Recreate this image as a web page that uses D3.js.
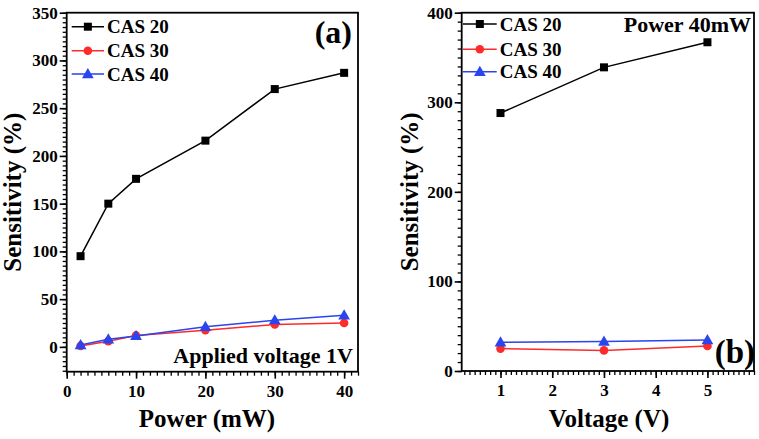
<!DOCTYPE html>
<html><head><meta charset="utf-8">
<script src="https://cdn.jsdelivr.net/npm/d3@7"></script>
<style>body{margin:0;background:#fff}svg{display:block}
svg text{font-family:"Liberation Serif","Times New Roman",Times,"DejaVu Serif","Noto Serif",serif !important;font-weight:bold}</style>
</head><body><svg id="c" width="759" height="439"></svg>
<script>
const seriesNames = ["CAS 20", "CAS 30", "CAS 40"];
const seriesColors = ["#000000", "#ff2a2a", "#2a44ee"];
const seriesShapes = ["square", "circle", "triangle"];
// Panel (a): sensitivity vs power at 1V
const powerX = [2, 6, 10, 20, 30, 40];
const powerCAS20 = [95, 150, 176, 216, 270, 287];
const powerCAS30 = [1, 6, 12, 17.5, 23.5, 25];
const powerCAS40 = [2, 8, 11.5, 21, 28, 33];
const powerTicksX = [0, 10, 20, 30, 40];
const powerTicksY = [0, 50, 100, 150, 200, 250, 300, 350];
// Panel (b): sensitivity vs voltage at 40 mW
const voltX = [1, 3, 5];
const voltCAS20 = [288, 339, 367];
const voltCAS30 = [25, 23, 28];
const voltCAS40 = [32, 33, 34.5];
const voltTicksX = [1, 2, 3, 4, 5];
const voltTicksY = [0, 100, 200, 300, 400];

const FONT = '"Liberation Serif","Times New Roman",Times,"DejaVu Serif",serif';
const svg = d3.select("#c");

function marker(g, shape, x, y, color) {
  if (shape === "square") g.append("rect").attr("x", x-4).attr("y", y-4).attr("width", 8).attr("height", 8).attr("fill", color);
  else if (shape === "circle") g.append("circle").attr("cx", x).attr("cy", y).attr("r", 4.3).attr("fill", color);
  else g.append("path").attr("d", d3.symbol(d3.symbolTriangle, 60)()).attr("transform", `translate(${x},${y+0.8})`).attr("fill", color);
}

function panel(opt) {
  const g = svg.append("g");
  const x = d3.scaleLinear().domain(opt.xDom).range([opt.x0, opt.x1]);
  const y = d3.scaleLinear().domain(opt.yDom).range([opt.y1, opt.y0]);
  const xMinor = d3.range(opt.xMinor[0], opt.xMinor[1] + 1e-9, opt.xMinor[2]).map(v => +v.toFixed(3));
  const yMinor = d3.range(opt.yMinor[0], opt.yMinor[1] + 1e-9, opt.yMinor[2]);
  g.append("g").attr("transform", `translate(0,${opt.y1})`)
    .call(d3.axisBottom(x).tickValues(xMinor).tickSize(4).tickFormat(""))
    .call(a => { a.select(".domain").remove(); a.selectAll("line").attr("stroke-width", 1.3); });
  g.append("g").attr("transform", `translate(${opt.x0},0)`)
    .call(d3.axisLeft(y).tickValues(yMinor).tickSize(4).tickFormat(""))
    .call(a => { a.select(".domain").remove(); a.selectAll("line").attr("stroke-width", 1.3); });
  const styleText = a => a.attr("font-family", FONT).selectAll("text").attr("font-size", 17).attr("fill", "#000").attr("font-family", FONT).attr("font-weight", "bold");
  g.append("g").attr("transform", `translate(0,${opt.y1})`)
    .call(d3.axisBottom(x).tickValues(opt.xTicks).tickSize(7).tickPadding(6).tickFormat(d3.format("d")))
    .call(a => { a.select(".domain").remove(); a.selectAll("line").attr("stroke-width", 1.6); styleText(a); });
  g.append("g").attr("transform", `translate(${opt.x0},0)`)
    .call(d3.axisLeft(y).tickValues(opt.yTicks).tickSize(7).tickPadding(2).tickFormat(d3.format("d")))
    .call(a => { a.select(".domain").remove(); a.selectAll("line").attr("stroke-width", 1.6); styleText(a); });
  g.append("rect").attr("x", opt.x0).attr("y", opt.y0).attr("width", opt.x1 - opt.x0).attr("height", opt.y1 - opt.y0)
    .attr("fill", "none").attr("stroke", "#000").attr("stroke-width", 1.8);
  const line = d3.line().x(d => x(d[0])).y(d => y(d[1]));
  opt.series.forEach((vals, i) => {
    const pts = opt.xs.map((xv, j) => [xv, vals[j]]);
    g.append("path").datum(pts).attr("d", line).attr("fill", "none").attr("stroke", seriesColors[i]).attr("stroke-width", 1.5);
    pts.forEach(p => marker(g, seriesShapes[i], x(p[0]), y(p[1]), seriesColors[i]));
  });
  seriesNames.forEach((n, i) => {
    const ly = opt.legY[i];
    g.append("line").attr("x1", opt.legX0).attr("x2", opt.legX1).attr("y1", ly).attr("y2", ly).attr("stroke", seriesColors[i]).attr("stroke-width", 1.5);
    marker(g, seriesShapes[i], (opt.legX0 + opt.legX1) / 2, ly, seriesColors[i]);
    g.append("text").attr("x", opt.legX1 + 3).attr("y", ly + 6.5).attr("font-family", FONT).attr("font-size", 19).text(n);
  });
  g.append("text").attr("x", opt.xTitleX).attr("y", 427).attr("text-anchor", "middle").attr("font-family", FONT).attr("font-size", 25).text(opt.xTitle);
  g.append("text").attr("transform", `translate(${opt.yTitleX},${(opt.y0 + opt.y1) / 2}) rotate(-90)`).attr("text-anchor", "middle").attr("font-family", FONT).attr("font-size", 25).text("Sensitivity (%)");
  opt.notes.forEach(t => g.append("text").attr("x", t[0]).attr("y", t[1]).attr("text-anchor", "end").attr("font-family", FONT).attr("font-size", t[2]).text(t[3]));
}

panel({
  x0: 66.7, x1: 358, y0: 12.7, y1: 371.7,
  xDom: [0, 42], yDom: [-26, 350],
  xTicks: powerTicksX, yTicks: powerTicksY,
  xMinor: [0, 42, 1], yMinor: [-25, 350, 5],
  xs: powerX, series: [powerCAS20, powerCAS30, powerCAS40],
  legX0: 71.7, legX1: 104, legY: [26.7, 50.7, 74],
  xTitle: "Power (mW)", xTitleX: 207, yTitleX: 21,
  notes: [[352, 43, 32, "(a)"], [353, 363, 22, "Applied voltage 1V"]]
});
panel({
  x0: 461.7, x1: 754, y0: 12.7, y1: 371,
  xDom: [0.25, 5.9], yDom: [0, 400],
  xTicks: voltTicksX, yTicks: voltTicksY,
  xMinor: [0.3, 5.9, 0.1], yMinor: [0, 400, 10],
  xs: voltX, series: [voltCAS20, voltCAS30, voltCAS40],
  legX0: 463, legX1: 496.7, legY: [24, 49.3, 71.7],
  xTitle: "Voltage (V)", xTitleX: 609, yTitleX: 418,
  notes: [[751, 32, 22, "Power 40mW"], [755, 363, 33, "(b)"]]
});
</script></body></html>
